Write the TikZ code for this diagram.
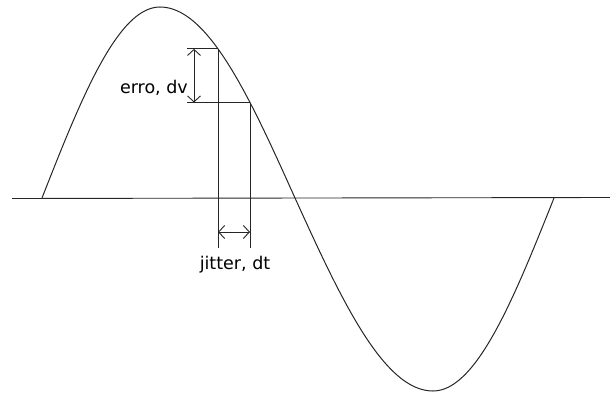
\documentclass[tikz,border=0pt]{standalone}
\usepackage{fontspec}
\setmainfont{DejaVu Sans}
\usepackage{tikz}
\usetikzlibrary{arrows.meta, positioning, calc}

\begin{document}
\begin{tikzpicture}[
    x=1pt, y=-1pt,
    line/.style={draw=black!85, line width=0.9pt},
    curve/.style={draw=black!85, line width=1pt, smooth},
    dim/.style={{Straight Barb[length=6pt, width=13pt]}-{Straight Barb[length=6pt, width=13pt]}, draw=black!85, line width=0.9pt},
    lbl/.style={font=\fontsize{17.5}{19}\selectfont, inner sep=1pt}
]
\useasboundingbox (0,0) rectangle (610,396);

% Axis
\coordinate (axl) at (12,198.5);
\coordinate (axr) at (610,197.5);
\draw[line] (axl) -- (axr);

% Sine wave
\draw[curve]
    plot[domain=42:160, samples=40] (\x, {198-191*sin(90*(\x-42)/118)})
 -- plot[domain=160:295, samples=40] (\x, {198-191*cos(90*(\x-160)/135)})
 -- plot[domain=295:433, samples=40] (\x, {198+193*sin(90*(\x-295)/138)})
 -- plot[domain=433:554, samples=40] (\x, {198+193*cos(90*(\x-433)/121)});

% Sample points on the wave
\coordinate (p1) at (218,{198-191*cos(90*58/135)});
\coordinate (p2) at (250,{198-191*cos(90*90/135)});
\coordinate (b1) at (218,248);
\coordinate (b2) at (250,248);
\path (p1) ++(-31,0) coordinate (h1);
\path (p2) ++(-63,0) coordinate (h2);

% Verticals and horizontals
\draw[line] (p1) -- (b1);
\draw[line] (p2) -- (b2);
\draw[line] (h1) -- (p1);
\draw[line] (h2) -- (p2);

% Dimension arrows
\path (p1) ++(-24,0) coordinate (v1);
\path (p2) ++(-56,0) coordinate (v2);
\draw[dim] (v1) -- (v2);
\coordinate (t1) at (218,232);
\coordinate (t2) at (250,232);
\draw[dim] (t1) -- (t2);

% Labels
\node[lbl, anchor=east] (erro) at (189,88) {erro, dv};
\node[lbl] (jitter) at (235,265) {jitter, dt};

\end{tikzpicture}
\end{document}
